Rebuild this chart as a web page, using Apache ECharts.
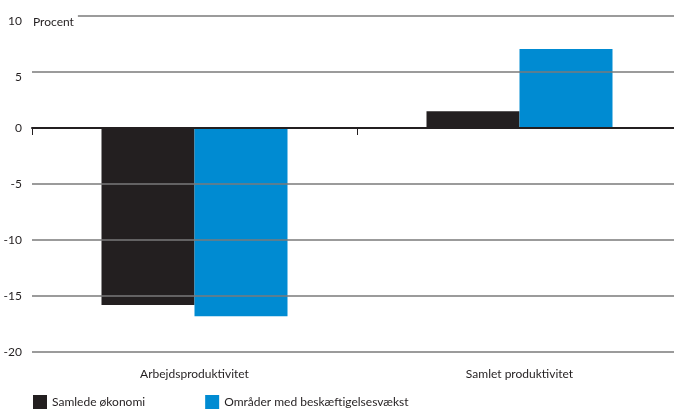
<!DOCTYPE html>
<html>
<head>
<meta charset="utf-8">
<script src="https://cdn.jsdelivr.net/npm/echarts@6/dist/echarts.min.js"></script>
<style>
  html, body { margin: 0; padding: 0; background: #fff; }
  #demo { width: 674px; height: 411px; }
</style>
</head>
<body>
<div id="demo"></div>
<script>
// 数据区
var categories = ['Arbejdsproduktivitet', 'Samlet produktivitet'];
var seriesNames = ['Samlede økonomi', 'Områder med beskæftigelsesvækst'];
var samledeOekonomi = [-15.8, 1.5];
var omraaderVaekst = [-16.8, 7.05];
var yMin = -20, yMax = 10, yStep = 5;

var FONT = 'Lato';

var myChart = echarts.init(document.getElementById('demo'));

var option = {
    animation: false,
    textStyle: { fontFamily: FONT },
    grid: { left: 32, width: 650, top: 16, bottom: 59, outerBoundsMode: 'none' },
    legend: {
        data: seriesNames,
        left: 28,
        top: 390,
        itemWidth: 14,
        itemHeight: 14,
        itemGap: 60,
        icon: 'rect',
        textStyle: { fontFamily: FONT, fontSize: 12, color: '#231f20' }
    },
    xAxis: [{
        // 零线 + 刻度
        type: 'category',
        data: categories,
        axisLine: { onZero: true, lineStyle: { color: '#231f20', width: 2 } },
        axisTick: { show: true, length: 7, lineStyle: { color: '#231f20', width: 1 } },
        axisLabel: { show: false },
        z: 5
    }, {
        // 底部类目标签
        type: 'category',
        data: categories,
        position: 'bottom',
        axisLine: { show: false, onZero: false },
        axisTick: { show: false },
        axisLabel: { margin: 16, fontFamily: FONT, fontSize: 12, color: '#231f20' }
    }],
    yAxis: {
        type: 'value',
        min: yMin,
        max: yMax,
        interval: yStep,
        name: 'Procent',
        nameLocation: 'end',
        nameGap: -6,
        nameTextStyle: {
            align: 'left',
            verticalAlign: 'middle',
            fontFamily: FONT,
            fontSize: 12,
            color: '#231f20',
            backgroundColor: '#fff',
            padding: [4, 4, 4, 1]
        },
        axisLine: { show: false },
        axisTick: { show: false },
        axisLabel: {
            margin: 10,
            fontFamily: FONT,
            fontSize: 12,
            color: '#231f20',
            formatter: function (v) {
                // 上方两个标签略向下偏
                return v > 0 ? '{low|' + v + '}' : String(v);
            },
            rich: {
                low: { fontFamily: FONT, fontSize: 12, color: '#231f20', padding: [10, 0, 0, 0] }
            }
        },
        splitLine: { show: true, lineStyle: { color: '#7a7a7a', width: 1.5 } },
        z: 3
    },
    series: [{
        name: seriesNames[0],
        type: 'bar',
        data: samledeOekonomi,
        barWidth: 93,
        barGap: '0%',
        itemStyle: { color: '#231f20' }
    }, {
        name: seriesNames[1],
        type: 'bar',
        data: omraaderVaekst,
        barWidth: 93,
        barGap: '0%',
        itemStyle: { color: '#008bd2' }
    }]
};

myChart.setOption(option);
</script>
</body>
</html>
